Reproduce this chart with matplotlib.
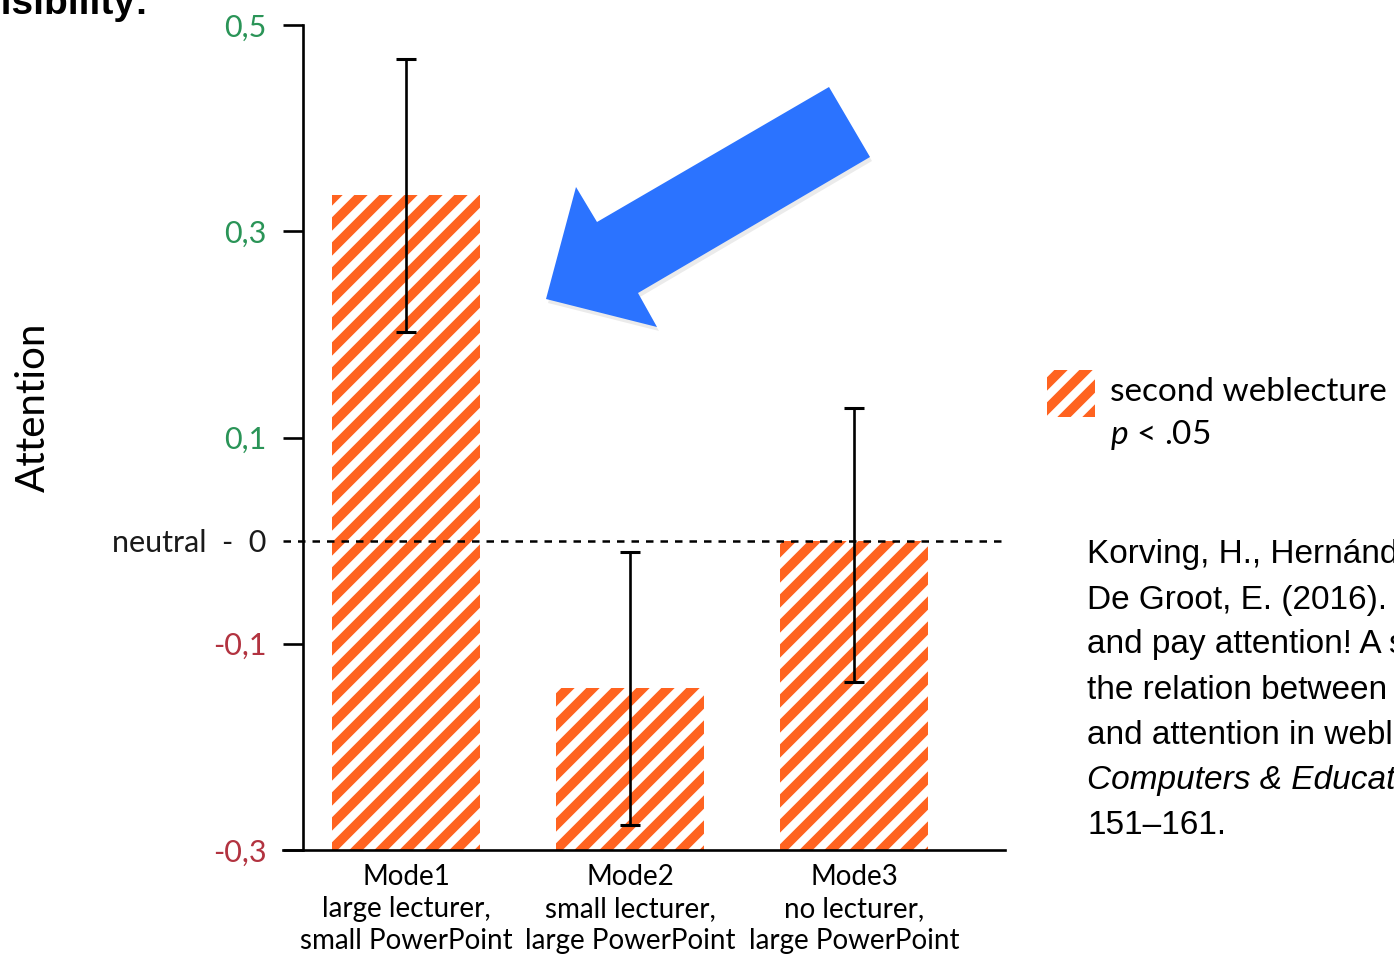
import numpy as np
import matplotlib
matplotlib.use("Agg")
import matplotlib.pyplot as plt
from matplotlib.collections import LineCollection
from matplotlib.patches import Polygon, Rectangle
from matplotlib.transforms import IdentityTransform

# attention scores per presentation mode (second weblecture)
modes = ["Mode1\nlarge lecturer,\nsmall PowerPoint",
         "Mode2\nsmall lecturer,\nlarge PowerPoint",
         "Mode3\nno lecturer,\nlarge PowerPoint"]
means = np.array([0.335, -0.143, 0.0])
err_low = np.array([0.202, -0.276, -0.137])
err_high = np.array([0.467, -0.011, 0.129])

ytick_vals = [-0.3, -0.1, 0.0, 0.1, 0.3, 0.5]
ytick_text = ["-0,3", "-0,1", "neutral  -  0", "0,1", "0,3", "0,5"]
ytick_cols = ["#b23340", "#b23340", "#1a1a1a", "#2a9457", "#2a9457", "#2a9457"]

citation = ["Korving, H., Hernández, M., &",
            "De Groot, E. (2016). Look at me",
            "and pay attention! A study on",
            "the relation between visibility",
            "and attention in weblectures.",
            "Computers & Education, 94,",
            "151–161."]

W, H = 1394, 956
ORANGE = "#ff6320"
FONT = "Lato"

plt.rcParams["mathtext.fontset"] = "custom"
plt.rcParams["mathtext.it"] = "Lato:italic"
plt.rcParams["mathtext.rm"] = "Lato"

fig = plt.figure(figsize=(W / 100, H / 100), dpi=100)


def fpos(x, y):
    # pixel position (from top-left) -> figure fraction
    return x / W, 1 - y / H


def stripes(lw=6.8, step=25):
    segs = []
    for c in np.arange(-1600, 1600, step):
        segs.append([(c - 200, -200), (c + 1400, 1400)])
    return LineCollection(segs, colors=ORANGE, linewidths=lw,
                          transform=IdentityTransform(), capstyle="butt")


ax = fig.add_axes([283 / W, 1 - 850 / H, 722 / W, 825 / H])
ax.set_xlim(-0.549, 2.674)
ax.set_ylim(-0.3, 0.5)

x = np.arange(len(means))
base = -0.3
bars = ax.bar(x, means - base, bottom=base, width=0.66,
              color="white", edgecolor="none", zorder=1)
for b in bars:
    lc = stripes()
    ax.add_collection(lc, autolim=False)
    lc.set_clip_path(b)

ax.errorbar(x, means, yerr=[means - err_low, err_high - means], fmt="none",
            ecolor="black", elinewidth=1.9, capsize=7.5, capthick=2.2, zorder=4)

ax.axhline(0, color="black", lw=1.8, ls=(0, (3.0, 2.8)), zorder=3)

for s in ["top", "right"]:
    ax.spines[s].set_visible(False)
ax.spines["left"].set_position(("data", -0.46))
ax.spines["left"].set_linewidth(1.9)
ax.spines["bottom"].set_linewidth(1.9)
ax.spines["left"].set_zorder(5)

ax.set_yticks(ytick_vals)
ax.set_yticklabels(ytick_text, fontsize=22, family=FONT)
for lab, col in zip(ax.get_yticklabels(), ytick_cols):
    lab.set_color(col)
ax.tick_params(axis="y", length=14.4, width=1.9, pad=12)
ax.yaxis.get_major_ticks()[2].tick1line.set_visible(False)

ax.set_xticks(x)
ax.set_xticklabels(modes, fontsize=20, family=FONT, linespacing=1.3)
ax.tick_params(axis="x", length=0, pad=10)

fig.text(*fpos(33, 407), "Attention", rotation=90, fontsize=29,
         family=FONT, ha="center", va="center")

# legend
lx, ly = fpos(1047, 417)
leg = Rectangle((lx, ly), 48 / W, 47 / H, transform=fig.transFigure,
                facecolor="white", edgecolor="none")
fig.add_artist(leg)
leg_lc = stripes()
fig.add_artist(leg_lc)
leg_lc.set_clip_path(leg)
fig.text(*fpos(1110, 392), "second weblecture", fontsize=24, family=FONT,
         va="center", ha="left")
fig.text(*fpos(1110, 435), r"$p$ < .05", fontsize=24, family=FONT,
         va="center", ha="left")

# reference text
for i, line in enumerate(citation):
    fig.text(*fpos(1087, 555 + 45 * i), line, fontsize=24,
             family="Liberation Sans", va="center", ha="left",
             style="italic" if line.startswith("Computers") else "normal")

fig.text(*fpos(149, 14), "visibility:", fontsize=28, fontweight="bold",
         family="Liberation Sans", ha="right", va="baseline")

# blue pointer arrow
arrow_px = [(829, 87), (870, 157), (638, 293), (657, 327),
            (546, 299), (576, 187), (597, 222)]
shadow = Polygon([fpos(px + 2, py + 4) for px, py in arrow_px],
                 transform=fig.transFigure, facecolor="black", alpha=0.08,
                 edgecolor="none")
fig.add_artist(shadow)
arrow = Polygon([fpos(px, py) for px, py in arrow_px],
                transform=fig.transFigure, facecolor="#2b73ff", edgecolor="none")
fig.add_artist(arrow)

fig.savefig("out.png", dpi=100)
